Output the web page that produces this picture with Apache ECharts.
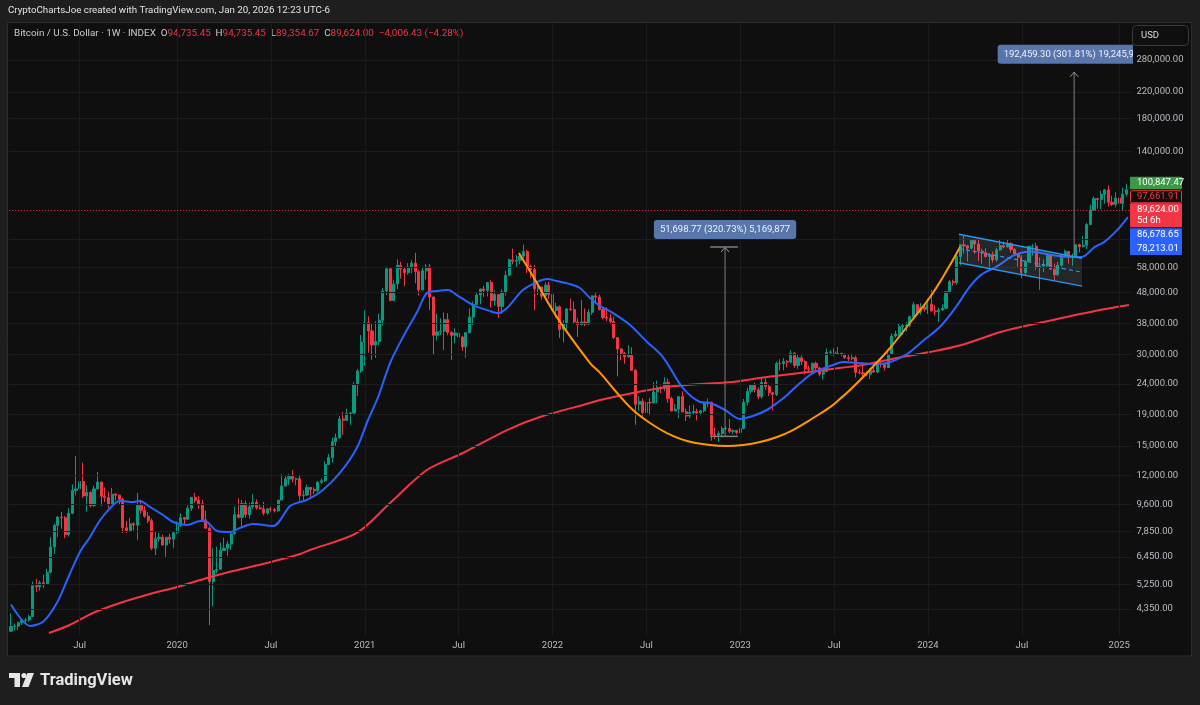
<!DOCTYPE html>
<html>
<head>
<meta charset="utf-8">
<title>Bitcoin / U.S. Dollar · 1W · INDEX</title>
<script src="https://cdn.jsdelivr.net/npm/echarts@6.0.0/dist/echarts.min.js"></script>
<style>
html,body{margin:0;padding:0;background:#1e1e1e;overflow:hidden;}
#chart{width:1200px;height:705px;}
</style>
</head>
<body>
<div id="chart"></div>
<script>
// ================= DATA =================
const firstWeek = '2019-02-18';   // first weekly bar
const slotCount = 311;            // weekly slots on the time axis (last one empty)

const openP = [
3673,3810,3820,3920,3990,4000,4110,5190,5150,5310,5270,5750,6970,8200,8740,8700,7650,8990,10700,10820,11450,10250,10530,9530,10820,11390,10230,10140,9630,10400,10320,10000,8060,7870,8300,8230,9550,9200,8800,8500,6900,7420,7500,7070,7500,7390,
7760,8190,8700,8600,9350,10150,9920,9660,8560,8030,5360,5830,5880,6780,6900,7120,7700,8900,8720,9680,8900,9450,9760,9380,9300,9000,9300,9250,9160,9940,11060,11670,11900,11650,11680,10280,10330,10940,10780,10670,11390,11510,13030,13740,15480,15960,18400,18200,19150,19250,23850,26450,
32950,38200,35850,32260,33140,38900,48600,57500,45200,51200,59000,57350,55800,58200,60000,56200,49000,56600,58200,46400,34700,35600,35800,39100,35500,34700,35300,34250,31800,35400,39900,43800,47100,49300,48800,51800,45160,47250,43200,48200,54700,61500,60900,61300,63300,65500,58700,57200,49400,50100,46700,50800,
47300,41900,43100,36300,37900,42400,42200,38400,37700,38400,37800,41300,46800,46400,42200,39700,39500,38500,34100,31300,30300,29450,29900,26600,20550,21030,19300,20850,20800,22600,23300,23200,24300,21500,19550,19830,21800,19420,18800,19300,19450,19250,19560,20630,20900,16330,16280,16450,17100,17100,16750,16840,
16600,17100,20900,22700,23750,22950,21800,24300,23550,22450,22160,28000,27990,28450,28330,30300,27600,29250,28450,26900,26750,28070,27100,25850,26350,30480,30600,30170,30250,30080,29280,29050,29280,26190,26100,25850,25840,26530,26250,27970,27930,27150,29990,34500,35050,37050,37360,37450,39950,43780,41350,43000,
42250,43950,41750,41580,42040,42580,48300,52130,51730,63100,68950,68400,67200,71300,69400,65700,64900,63100,63900,61500,66300,68500,67800,69600,66600,64300,62700,55800,60800,68200,68250,58100,58700,58900,64200,57300,54900,59100,63600,65600,62800,62900,69000,68000,68700,80400,89800,97900,97200,101200,104500,95200,93700,98300,94500,101300
];
const highP = [
4210,3900,3960,4000,4070,4170,5350,5470,5400,5650,5900,7500,8320,8800,9100,8800,9350,11200,13900,12000,13200,11100,10650,11100,12300,11450,10950,10600,10900,10480,10350,10100,8500,8700,8400,10500,9960,9500,9080,8650,7850,7750,7650,7500,7700,7800,
8460,9000,8760,9560,10170,10500,10250,9970,9180,8150,6900,6980,7200,7470,7300,7750,9460,10070,9950,9900,9740,10400,10000,9600,9800,9350,9450,9350,9950,12100,11900,12100,12480,11800,12050,10700,11180,10990,10950,11500,11720,13350,14100,15960,16480,18800,19420,19900,19400,24300,26900,34800,
41950,40100,37850,38600,40950,49700,58350,57600,52600,61800,60600,58400,60000,61300,64900,57000,58400,59600,59600,46600,40900,39500,41300,41000,35750,36600,35400,34600,35500,42600,44800,48100,49400,50500,52000,52900,48800,47350,49200,56600,62000,67000,63700,64300,69000,66300,59300,59200,51900,50200,51900,52100,
47600,44400,43500,38900,42600,45800,44800,39500,45400,42600,42300,46900,48200,47200,42400,42900,40800,40000,34200,31400,30600,32200,31700,26900,21900,21500,22500,21600,24300,24600,23600,25200,25000,21800,20600,21900,22700,19900,20400,20500,19900,19700,21000,21500,21000,17200,16800,17400,17400,18400,17000,16950,
17200,21400,23300,23900,24200,23400,25200,25100,23900,22600,28400,28900,29200,28800,31000,30500,30000,29800,28700,27600,28200,28450,27300,26800,31400,31000,31400,31800,30400,30100,30000,30200,29700,26800,28200,26400,27000,27500,28000,28600,27950,30400,35200,35900,37950,37950,38400,40250,44700,43800,44300,43800,
45900,49000,43600,42800,43880,48600,52800,52950,64000,69200,73800,68900,71700,71400,72800,66900,67200,64700,65500,67400,71900,70600,72000,70200,67200,64500,63800,61300,68300,69400,70000,62700,61800,65000,64500,59800,60600,64100,66500,65700,64500,69400,69500,73600,81500,93400,99600,98700,104000,105200,108300,99900,102700,102500,106400,109600
];
const lowP = [
3660,3700,3700,3850,3900,3950,4090,4950,5000,5100,5250,5700,6600,7500,8000,7450,7550,8950,10300,9700,10100,9100,9400,9450,10800,9500,9800,9350,9620,9900,9620,7750,7750,7820,7900,7350,8970,8700,8350,6800,6550,7250,7050,6450,7150,6900,
7680,8100,8270,8550,9150,9730,9300,8550,8500,3850,4440,5700,5860,6760,6500,6810,7650,8650,8130,8700,8650,9300,9250,9250,8850,8900,9100,9050,9100,9900,11000,11150,11370,11120,9880,9900,10250,10140,10400,10530,11220,11400,12960,13220,14850,15800,16330,18100,17600,19000,21900,26100,
27700,30400,28800,29250,32300,37400,47100,44900,45000,49300,53300,50400,55000,55500,51500,47000,48800,53000,42000,30000,33400,34800,31000,34700,28800,32700,32100,30900,29300,35200,37500,43800,43900,46400,46600,42800,43400,39600,40800,46900,54400,59500,58000,59500,62300,55700,53600,42000,47100,45500,45500,45700,
40600,39700,34000,32900,36300,41700,37900,34300,37500,37200,37600,40500,44200,41900,39200,38600,37700,33700,25400,28700,28000,29300,26500,17600,19600,18600,19000,18900,20700,20700,22400,22700,20800,19500,19500,18500,19300,18100,18500,19100,18200,18900,19300,20100,15600,15800,15480,16000,16900,16500,16400,16350,
16500,17000,20400,22300,22500,21400,21400,22900,21900,19600,21900,26600,26600,27200,28100,27100,26900,27700,25800,26300,25900,26600,25400,24800,26250,29900,29700,29900,29600,29100,28600,28700,25200,25800,25300,25400,24900,26100,26000,27200,26550,27100,29900,34100,34500,34800,35700,36900,39950,40200,40600,41500,
40800,41500,40300,38500,41800,42260,47700,50600,50900,59000,64600,60800,66500,64500,61000,59700,62500,56600,60200,60700,66000,67100,67700,65100,63400,58400,53500,54300,60700,63500,57100,49000,56100,57900,57200,52500,54600,57500,62700,59800,58900,62400,65100,67500,66800,80300,89400,90800,90500,94200,92200,92500,91600,91200,89200,99500
];
const closeP = [
3810,3820,3920,3990,4000,4110,5190,5150,5310,5270,5750,6970,8200,8740,8700,7650,8990,10700,10820,11450,10250,10530,9530,10820,11390,10230,10140,9630,10400,10320,10000,8060,7870,8300,8230,9550,9200,8800,8500,6900,7420,7500,7070,7500,7390,7760,
8190,8700,8600,9350,10150,9920,9660,8560,8030,5360,5830,5880,6780,6900,7120,7700,8900,8720,9680,8900,9450,9760,9380,9300,9000,9300,9250,9160,9940,11060,11670,11900,11650,11680,10280,10330,10940,10780,10670,11390,11510,13030,13740,15480,15960,18400,18200,19150,19250,23850,26450,32950,
38200,35850,32260,33140,38900,48600,57500,45200,51200,59000,57350,55800,58200,60000,56200,49000,56600,58200,46400,34700,35600,35800,39100,35500,34700,35300,34250,31800,35400,39900,43800,47100,49300,48800,51800,45160,47250,43200,48200,54700,61500,60900,61300,63300,65500,58700,57200,49400,50100,46700,50800,47300,
41900,43100,36300,37900,42400,42200,38400,37700,38400,37800,41300,46800,46400,42200,39700,39500,38500,34100,31300,30300,29450,29900,26600,20550,21030,19300,20850,20800,22600,23300,23200,24300,21500,19550,19830,21800,19420,18800,19300,19450,19250,19560,20630,20900,16330,16280,16450,17100,17100,16750,16840,16600,
17100,20900,22700,23750,22950,21800,24300,23550,22450,22160,28000,27990,28450,28330,30300,27600,29250,28450,26900,26750,28070,27100,25850,26350,30480,30600,30170,30250,30080,29280,29050,29280,26190,26100,25850,25840,26530,26250,27970,27930,27150,29990,34500,35050,37050,37360,37450,39950,43780,41350,43000,42250,
43950,41750,41580,42040,42580,48300,52130,51730,63100,68950,68400,67200,71300,69400,65700,64900,63100,63900,61500,66300,68500,67800,69600,66600,64300,62700,55800,60800,68200,68250,58100,58700,58900,64200,57300,54900,59100,63600,65600,62800,62900,69000,68000,68700,80400,89800,97900,97200,101200,104500,95200,93700,98300,94500,101300,104700
];

// Blue moving average (at sample points: bar index, price)
const blueIdx = [0,5.3,8.9,12.7,15.8,19.1,21.9,24.7,28.3,30.2,33.8,35.7,38.5,42.1,44.9,48.8,52.4,54.3,57.1,60.7,63.4,67.0,72.6,77.3,80.1,82.0,86.4,91.1,95.8,98.9,101.7,105.0,108.6,112.5,115.2,118.0,121.1,123.5,128.0,132.7,134.9,137.4,141.8,145.7,148.5,151.2,154.8,157.6,160.4,163.2,166.8,171.5,176.2,180.6,186.1,190.9,193.6,197.8,201.9,205.5,209.4,212.2,215.0,218.6,222.2,227.7,230.5,234.3,238.8,242.7,248.2,252.6,257.3,261.5,265.5,268.8,272.8,277.8,282.5,287.5,292.9,296.6,300.3,302.8,306.4,309.4];
const blueVal = [4500,3824,3950,4553,5503,6704,7513,8548,9578,9873,9798,9873,9434,8878,8420,8231,8484,8420,7864,7805,8045,8293,8168,9505,9798,9948,10730,12210,14760,18250,21730,28120,34260,41400,47820,48550,48920,47100,43650,41710,41080,42670,48920,51980,53180,52380,51200,49670,46040,43320,41080,37510,32980,29430,23270,20920,20760,19690,18390,18810,19690,20760,22070,24170,26080,27710,28350,28120,27910,28120,30110,33240,36950,42560,50000,55000,58200,63600,65500,64000,62880,62880,67970,70370,77080,85130];

// Red long moving average
const redIdx = [10.5,16.3,22.7,30.2,38.5,46.0,54.3,61.5,70.9,80.1,82.8,95.8,105.0,115.2,125.2,137.4,146.5,160.4,163.2,172.3,181.7,190.9,200.0,209.4,218.6,229.6,236.0,245.4,254.6,263.3,274.4,286.4,300.3,309.7];
const redVal = [3626,3853,4220,4553,4874,5140,5503,5803,6167,6603,6806,7745,9723,12490,14210,16910,18670,20760,21240,22400,23440,23980,24350,25290,26080,27090,27710,29220,30570,32240,35660,38470,41730,43650];

// Orange rounded-bottom curve
const cupIdx = [140.7,145.2,151.2,160.4,163.2,167.9,172.3,177.0,181.7,187.3,193.6,198.3,202.8,207.5,212.2,216.6,222.2,226.9,229.6,232.4,237.9,243.5,249.0,254.6,259.3,262.9];
const cupVal = [64780,52780,39850,28120,26080,22400,19690,17840,16530,15560,15100,14980,15100,15440,16040,16910,18530,20130,21400,22910,26680,31520,38100,46390,56940,67790];

// Parallel channel (flag)
const channelIdx = [262.6, 296.7];
const channelTop = [74700, 62250];
const channelBottom = [60200, 50400];
const channelMid = [67050, 56000];

// Price-range measurements
const measureIdx = [197.8, 294.5];
const measureFrom = [16119, 63768];
const measureTo = [67818, 256227];
const measureText = ['51,698.77 (320.73%) 5,169,877', '192,459.30 (301.81%) 19,245,930'];

// Price scale
const lastPrice = 89624;
const priceTicks = [4350,5250,6450,7850,9600,12000,15000,19000,24000,30000,38000,48000,58000,140000,180000,220000,280000];
const extraGridPrices = [72000];
const tagHigh = '100,847.47';
const tagPrev = '97,661.91';
const tagLast = '89,624.00';
const tagCountdown = '5d 6h';
const tagMa1 = '86,678.65';
const tagMa2 = '78,213.01';

// Header texts
const creditText = 'CryptoChartsJoe created with TradingView.com, Jan 20, 2026 12:23 UTC-6';
const symbolText = 'Bitcoin / U.S. Dollar · 1W · INDEX';
const ohlcText = { O: '94,735.45', H: '94,735.45', L: '89,354.67', C: '89,624.00' };
const changeText = '−4,006.43 (−4.28%)';

// ================= BUILD =================
const categories = [];
(function () {
  const t0 = Date.parse(firstWeek + 'T00:00:00Z');
  for (let i = 0; i < slotCount; i++) {
    categories.push(new Date(t0 + i * 7 * 86400000).toISOString().slice(0, 10));
  }
})();
const xLabelIdx = [];
for (let i = 1; i < categories.length; i++) {
  const m = +categories[i].slice(5, 7), pm = +categories[i - 1].slice(5, 7);
  if (m !== pm && (m === 1 || m === 7)) xLabelIdx.push(i);
}
const xLabelSet = new Set(xLabelIdx);

const candles = openP.map((o, i) => [o, closeP[i], lowP[i], highP[i]]);
const pairs = (xs, ys) => xs.map((x, i) => [x, ys[i]]);

const FONT = 'Roboto, "Noto Sans", sans-serif';
const UP = '#089981', DOWN = '#f23645';
const AXIS_TXT = '#b8bbc4';
const GRID_LINE = '#1c1c1c';

const chart = echarts.init(document.getElementById('chart'), null, { renderer: 'canvas', width: 1200, height: 705 });

const fmtPrice = v => Number(v).toLocaleString('en-US', { minimumFractionDigits: 2, maximumFractionDigits: 2 });

function renderChannel(params, api) {
  const t0 = api.coord([channelIdx[0], channelTop[0]]);
  const t1 = api.coord([channelIdx[1], channelTop[1]]);
  const b0 = api.coord([channelIdx[0], channelBottom[0]]);
  const b1 = api.coord([channelIdx[1], channelBottom[1]]);
  const m0 = api.coord([channelIdx[0], channelMid[0]]);
  const m1 = api.coord([channelIdx[1], channelMid[1]]);
  const blue = '#2196f3';
  return {
    type: 'group',
    children: [
      { type: 'polygon', shape: { points: [t0, t1, b1, b0] }, style: { fill: 'rgba(150,152,160,0.17)' } },
      { type: 'line', shape: { x1: t0[0], y1: t0[1], x2: t1[0], y2: t1[1] }, style: { stroke: blue, lineWidth: 1.5 } },
      { type: 'line', shape: { x1: b0[0], y1: b0[1], x2: b1[0], y2: b1[1] }, style: { stroke: blue, lineWidth: 1.5 } },
      { type: 'line', shape: { x1: m0[0], y1: m0[1], x2: m1[0], y2: m1[1] }, style: { stroke: blue, lineWidth: 1.2, lineDash: [4, 3] } }
    ]
  };
}

function renderMeasure(params, api) {
  const i = params.dataIndex;
  const xi = api.value(0);
  const pFrom = api.coord([xi, api.value(1)]);
  const pTo = api.coord([xi, api.value(2)]);
  const gray = '#7b7e88';
  const kids = [
    { type: 'line', shape: { x1: pFrom[0], y1: pFrom[1], x2: pTo[0], y2: pTo[1] }, style: { stroke: gray, lineWidth: 1 } },
    { type: 'polyline', shape: { points: [[pTo[0] - 4, pTo[1] + 5], [pTo[0], pTo[1] + 0.5], [pTo[0] + 4, pTo[1] + 5]] }, style: { stroke: '#9a9da6', lineWidth: 1, fill: null } }
  ];
  if (i === 0) {
    kids.push({ type: 'line', shape: { x1: pTo[0] - 15, y1: pTo[1], x2: pTo[0] + 13, y2: pTo[1] }, style: { stroke: gray, lineWidth: 1.5 } });
    kids.push({ type: 'line', shape: { x1: pFrom[0] - 15, y1: pFrom[1], x2: pFrom[0] + 13, y2: pFrom[1] }, style: { stroke: gray, lineWidth: 1.5 } });
  }
  kids.push({
    type: 'text', x: pTo[0], y: pTo[1] - 8,
    style: {
      text: measureText[i], align: 'center', verticalAlign: 'bottom',
      fill: '#eef2fa', font: '9.5px ' + FONT,
      backgroundColor: '#5876ab', padding: [5, 6, 4, 6], borderRadius: 3
    }
  });
  return { type: 'group', children: kids };
}

chart.setOption({
  animation: false,
  backgroundColor: '#1e1e1e',
  grid: { left: 9.2, right: 68.1, top: 23, bottom: 69, containLabel: false, outerBoundsMode: 'none' },
  xAxis: [
    {
      type: 'category', data: categories, boundaryGap: true,
      axisLine: { show: false }, axisTick: { show: false }, splitLine: { show: false },
      axisLabel: {
        interval: (idx) => xLabelSet.has(idx),
        formatter: (val) => (+val.slice(5, 7) === 1 ? val.slice(0, 4) : 'Jul'),
        color: AXIS_TXT, fontSize: 9.5, fontFamily: FONT, margin: 5
      }
    },
    { type: 'value', min: -0.5, max: slotCount - 0.5, show: false }
  ],
  yAxis: [{
    type: 'log', logBase: 10, min: 3544.6, max: 371030, position: 'right',
    axisLine: { show: false },
    axisTick: { show: false, customValues: priceTicks },
    splitLine: { show: false },
    axisLabel: { customValues: priceTicks, formatter: fmtPrice, color: AXIS_TXT, fontSize: 9.5, fontFamily: FONT, margin: 4.5 }
  }],
  series: [
    {
      name: 'grid', type: 'line', xAxisIndex: 1, yAxisIndex: 0, data: [], z: 0, silent: true,
      markLine: {
        silent: true, symbol: ['none', 'none'], label: { show: false }, animation: false,
        lineStyle: { color: GRID_LINE, width: 1, type: 'solid' },
        emphasis: { disabled: true },
        data: priceTicks.concat(extraGridPrices).map(v => ({ yAxis: v })).concat(xLabelIdx.map(i => ({ xAxis: i })))
      }
    },
    {
      name: 'BTCUSD', type: 'candlestick', xAxisIndex: 0, yAxisIndex: 0, data: candles, barWidth: '72%', z: 3, silent: true,
      itemStyle: { color: UP, color0: DOWN, borderColor: UP, borderColor0: DOWN, borderWidth: 1 },
      markLine: {
        silent: true, symbol: ['none', 'none'], label: { show: false }, animation: false,
        lineStyle: { color: '#f23645', width: 1, type: [1, 2] },
        data: [{ yAxis: lastPrice }]
      }
    },
    {
      name: 'MA long', type: 'line', xAxisIndex: 1, yAxisIndex: 0, data: pairs(redIdx, redVal), smooth: 0.3,
      showSymbol: false, silent: true, z: 4, lineStyle: { color: '#f23645', width: 2 }
    },
    {
      name: 'MA short', type: 'line', xAxisIndex: 1, yAxisIndex: 0, data: pairs(blueIdx, blueVal), smooth: 0.3,
      showSymbol: false, silent: true, z: 5, lineStyle: { color: '#2962ff', width: 2 }
    },
    {
      name: 'Cup', type: 'line', xAxisIndex: 1, yAxisIndex: 0, data: pairs(cupIdx, cupVal), smooth: 0.4,
      showSymbol: false, silent: true, z: 6, lineStyle: { color: '#ff9800', width: 2 }
    },
    {
      name: 'Channel', type: 'custom', xAxisIndex: 1, yAxisIndex: 0, z: 7, silent: true,
      data: [[channelIdx[0], channelTop[0]]], renderItem: renderChannel
    },
    {
      name: 'Measure', type: 'custom', xAxisIndex: 1, yAxisIndex: 0, z: 8, silent: true, clip: true,
      data: measureIdx.map((x, i) => [x, measureFrom[i], measureTo[i]]),
      encode: { x: 0, y: [1, 2] },
      renderItem: renderMeasure
    }
  ]
});

// ---- decorations: frame, header, price tags, logo ----
const yLast = chart.convertToPixel({ yAxisIndex: 0 }, lastPrice);
const tagX = 1130, tagW = 52, tagTxtX = 1137;
const tagFont = '9.5px ' + FONT;
const graphics = [
  { type: 'rect', z: -100, silent: true, shape: { x: 7.5, y: 22.5, width: 1184, height: 633.5 }, style: { fill: '#0f0f0f', stroke: '#2c2c2c', lineWidth: 1 } },
  { type: 'text', x: 8, y: 11, silent: true, style: { text: creditText, fill: '#e3e3e3', font: '9.75px ' + FONT, verticalAlign: 'middle' } },
  {
    type: 'text', x: 14, y: 34, silent: true,
    style: {
      text: '{t|' + symbolText + '  O}{v|' + ohlcText.O + '}{t|  H}{v|' + ohlcText.H + '}{t|  L}{v|' + ohlcText.L + '}{t|  C}{v|' + ohlcText.C + '}{v|  ' + changeText + '}',
      verticalAlign: 'middle',
      rich: {
        t: { fill: '#c9ccd3', fontSize: 9.85, fontFamily: FONT },
        v: { fill: '#f23645', fontSize: 9.85, fontFamily: FONT }
      }
    }
  },
  { type: 'rect', silent: true, shape: { x: 1132.5, y: 25.5, width: 56, height: 20, r: 4 }, style: { fill: '#0f0f0f', stroke: '#3a3a3a', lineWidth: 1 } },
  { type: 'text', x: 1141, y: 35.5, silent: true, style: { text: 'USD', fill: '#d9dbe0', font: '9.5px ' + FONT, verticalAlign: 'middle' } },
  // price tags
  { type: 'rect', z: 50, silent: true, shape: { x: tagX, y: yLast - 33.5, width: tagW, height: 12.6, r: 1 }, style: { fill: '#3b9a44' } },
  { type: 'text', z: 51, x: tagTxtX, y: yLast - 27.2, silent: true, style: { text: tagHigh, fill: '#ffffff', font: tagFont, verticalAlign: 'middle' } },
  { type: 'rect', z: 50, silent: true, shape: { x: tagX + 0.5, y: yLast - 19.5, width: tagW - 1, height: 12, r: 1 }, style: { fill: '#0f0f0f', stroke: '#f23645', lineWidth: 1 } },
  { type: 'text', z: 51, x: tagTxtX, y: yLast - 13.4, silent: true, style: { text: tagPrev, fill: '#f23645', font: tagFont, verticalAlign: 'middle' } },
  { type: 'rect', z: 50, silent: true, shape: { x: tagX, y: yLast - 6.9, width: tagW, height: 24, r: 1 }, style: { fill: '#f23645' } },
  { type: 'text', z: 51, x: tagTxtX, y: yLast - 0.2, silent: true, style: { text: tagLast, fill: '#ffffff', font: tagFont, verticalAlign: 'middle' } },
  { type: 'text', z: 51, x: tagTxtX, y: yLast + 10.8, silent: true, style: { text: tagCountdown, fill: '#ffffff', font: tagFont, verticalAlign: 'middle' } },
  { type: 'rect', z: 50, silent: true, shape: { x: tagX, y: yLast + 18.1, width: tagW, height: 26.7, r: 1 }, style: { fill: '#2962ff' } },
  { type: 'text', z: 51, x: tagTxtX, y: yLast + 24.8, silent: true, style: { text: tagMa1, fill: '#ffffff', font: tagFont, verticalAlign: 'middle' } },
  { type: 'text', z: 51, x: tagTxtX, y: yLast + 38.2, silent: true, style: { text: tagMa2, fill: '#ffffff', font: tagFont, verticalAlign: 'middle' } },
  // TradingView logo
  { type: 'rect', silent: true, shape: { x: 9, y: 673, width: 11, height: 5 }, style: { fill: '#e6e6e6' } },
  { type: 'rect', silent: true, shape: { x: 14.5, y: 673, width: 5.5, height: 14 }, style: { fill: '#e6e6e6' } },
  { type: 'circle', silent: true, shape: { cx: 24, cy: 675.5, r: 2.6 }, style: { fill: '#e6e6e6' } },
  { type: 'polygon', silent: true, shape: { points: [[27.5, 673], [34, 673], [28.5, 687], [22, 687]] }, style: { fill: '#e6e6e6' } },
  { type: 'text', x: 40, y: 681, silent: true, style: { text: 'TradingView', fill: '#e6e6e6', font: 'bold 16.5px ' + FONT, verticalAlign: 'middle' } }
];
chart.setOption({ graphic: graphics });
</script>
</body>
</html>
